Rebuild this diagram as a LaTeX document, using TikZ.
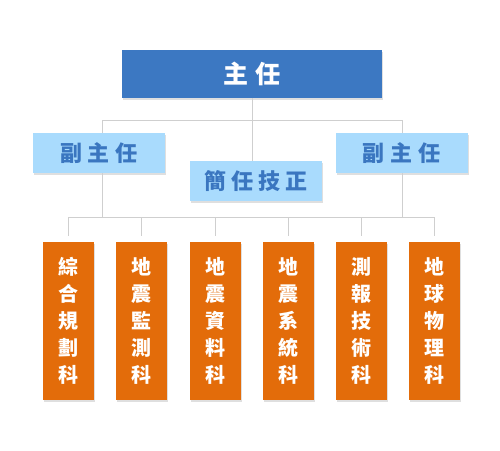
\documentclass[tikz,border=0pt]{standalone}
\usepackage{fontspec}
\newfontfamily\cjk{Noto Sans CJK TC}
\usetikzlibrary{shadows}
\definecolor{topblue}{HTML}{3C78C2}
\definecolor{lightblue}{HTML}{A9DBFD}
\definecolor{depttext}{HTML}{3A76C0}
\definecolor{deptorange}{HTML}{E36C0A}
\definecolor{linegray}{HTML}{CFCFCF}
\begin{document}
\begin{tikzpicture}[x=1pt,y=-1pt,
  boxshadow/.style={drop shadow={opacity=0.25,shadow xshift=1pt,shadow yshift=-2pt}},
  topbox/.style={fill=topblue,text=white,minimum width=260pt,minimum height=48pt,inner sep=0pt,boxshadow,font=\cjk\bfseries\fontsize{25}{25}\selectfont},
  midbox/.style={fill=lightblue,text=depttext,minimum width=132pt,minimum height=40pt,inner sep=0pt,boxshadow,font=\cjk\bfseries\fontsize{22}{22}\selectfont},
  unitbox/.style={fill=deptorange,text=white,minimum width=51pt,minimum height=158pt,inner sep=0pt,align=center,boxshadow,font=\cjk\bfseries\fontsize{20}{27}\selectfont},
  conn/.style={draw=linegray,line width=0.9pt}
]
\useasboundingbox (0,0) rectangle (500,450);
\fill[white] (0,0) rectangle (500,450);

\node[topbox] (top) at (252,74) {主\hspace{7pt}任};
\node[midbox] (dep1) at (99,153) {副\hspace{6pt}主\hspace{6pt}任};
\node[midbox] (dep2) at (401.5,153) {副\hspace{6pt}主\hspace{6pt}任};
\node[midbox] (tech) at (256,181) {簡\hspace{5pt}任\hspace{5pt}技\hspace{5pt}正};

\node[unitbox] (b1) at (68.5,321) {綜\\合\\規\\劃\\科};
\node[unitbox] (b2) at (141.5,321) {地\\震\\監\\測\\科};
\node[unitbox] (b3) at (215.5,321) {地\\震\\資\\料\\科};
\node[unitbox] (b4) at (288.5,321) {地\\震\\系\\統\\科};
\node[unitbox] (b5) at (361.5,321) {測\\報\\技\\術\\科};
\node[unitbox] (b6) at (434.5,321) {地\\球\\物\\理\\科};

\coordinate (l1) at (102,120);
\coordinate (r1) at (402,120);
\coordinate (bbar) at (0,217);

\begin{scope}[on background layer/.try]
\end{scope}
\draw[conn] (top.south) -- (top.south |- tech.north);
\draw[conn] (l1) -- (r1);
\draw[conn] (l1) -- (l1 |- dep1.north);
\draw[conn] (r1) -- (r1 |- dep2.north);
\draw[conn] (l1 |- dep1.south) -- (l1 |- bbar);
\draw[conn] (r1 |- dep2.south) -- (r1 |- bbar);
\draw[conn] (b1.north |- bbar) -- (b6.north |- bbar);
\foreach \b in {b1,b2,b3,b4,b5,b6}{
  \draw[conn] (\b.north |- bbar) -- ([yshift=6pt]\b.north);
}
\end{tikzpicture}
\end{document}
